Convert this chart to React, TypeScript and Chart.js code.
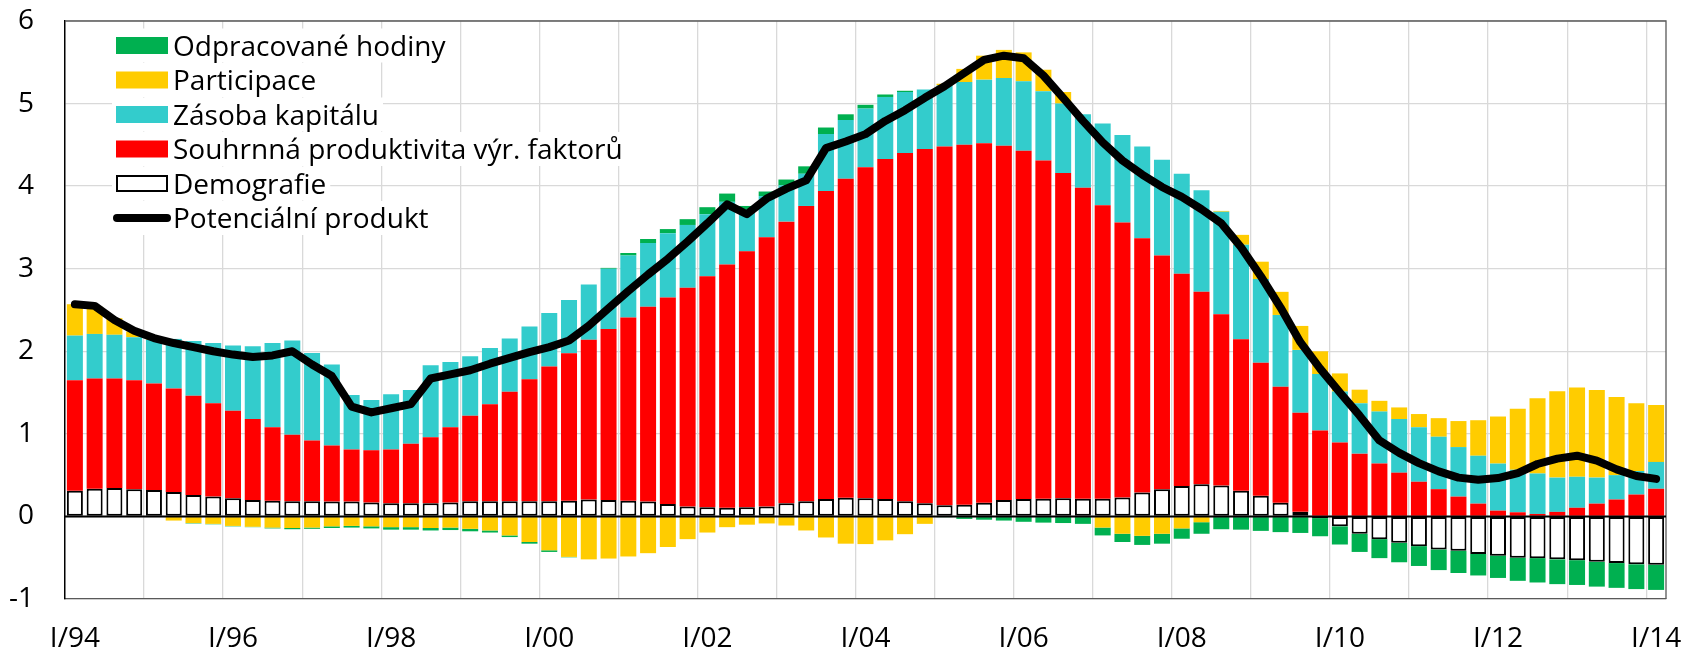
import React, { useEffect, useRef } from "react";
import { Chart, registerables } from "chart.js";

Chart.register(...registerables);

const quarterLabels = [
  "I/94", "II/94", "III/94", "IV/94", "I/95", "II/95", "III/95", "IV/95",
  "I/96", "II/96", "III/96", "IV/96", "I/97", "II/97", "III/97", "IV/97",
  "I/98", "II/98", "III/98", "IV/98", "I/99", "II/99", "III/99", "IV/99",
  "I/00", "II/00", "III/00", "IV/00", "I/01", "II/01", "III/01", "IV/01",
  "I/02", "II/02", "III/02", "IV/02", "I/03", "II/03", "III/03", "IV/03",
  "I/04", "II/04", "III/04", "IV/04", "I/05", "II/05", "III/05", "IV/05",
  "I/06", "II/06", "III/06", "IV/06", "I/07", "II/07", "III/07", "IV/07",
  "I/08", "II/08", "III/08", "IV/08", "I/09", "II/09", "III/09", "IV/09",
  "I/10", "II/10", "III/10", "IV/10", "I/11", "II/11", "III/11", "IV/11",
  "I/12", "II/12", "III/12", "IV/12", "I/13", "II/13", "III/13", "IV/13",
  "I/14",
];

const yTicks = [-1, 0, 1, 2, 3, 4, 5, 6];

const demografie = [
  0.31, 0.335, 0.343, 0.33, 0.32, 0.295, 0.26, 0.24, 0.22, 0.2,
  0.19, 0.185, 0.185, 0.18, 0.18, 0.17, 0.16, 0.16, 0.16, 0.17,
  0.185, 0.185, 0.185, 0.185, 0.185, 0.19, 0.205, 0.2, 0.19, 0.18,
  0.15, 0.12, 0.11, 0.105, 0.11, 0.12, 0.16, 0.185, 0.21, 0.225,
  0.22, 0.21, 0.185, 0.16, 0.135, 0.14, 0.165, 0.2, 0.21, 0.215,
  0.22, 0.215, 0.215, 0.23, 0.29, 0.33, 0.37, 0.39, 0.375, 0.31,
  0.25, 0.165, 0.057, -0.02, -0.12, -0.21, -0.275, -0.32, -0.36, -0.4,
  -0.415, -0.455, -0.475, -0.5, -0.505, -0.52, -0.53, -0.55, -0.565, -0.58,
  -0.585,
];

const produktivita = [
  1.34, 1.335, 1.327, 1.32, 1.29, 1.255, 1.2, 1.13, 1.06, 0.98,
  0.89, 0.805, 0.735, 0.68, 0.63, 0.63, 0.65, 0.72, 0.8, 0.91,
  1.035, 1.175, 1.325, 1.475, 1.63, 1.785, 1.935, 2.07, 2.22, 2.36,
  2.5, 2.65, 2.8, 2.945, 3.1, 3.26, 3.41, 3.575, 3.73, 3.865,
  4.01, 4.12, 4.215, 4.29, 4.345, 4.36, 4.355, 4.29, 4.22, 4.095,
  3.94, 3.765, 3.555, 3.33, 3.08, 2.83, 2.57, 2.33, 2.075, 1.835,
  1.61, 1.405, 1.2, 1.04, 0.895, 0.76, 0.64, 0.53, 0.42, 0.33,
  0.24, 0.155, 0.07, 0.05, 0.03, 0.055, 0.105, 0.155, 0.205, 0.265,
  0.335,
];

const kapital = [
  0.54, 0.54, 0.53, 0.52, 0.53, 0.6, 0.665, 0.73, 0.79, 0.88,
  1.02, 1.14, 1.06, 0.98, 0.66, 0.61, 0.67, 0.65, 0.87, 0.79,
  0.72, 0.68, 0.645, 0.64, 0.65, 0.645, 0.67, 0.73, 0.75, 0.77,
  0.78, 0.76, 0.75, 0.76, 0.51, 0.5, 0.44, 0.39, 0.69, 0.71,
  0.71, 0.75, 0.74, 0.72, 0.74, 0.76, 0.77, 0.82, 0.84, 0.84,
  0.84, 0.89, 0.99, 1.06, 1.11, 1.16, 1.21, 1.23, 1.24, 1.145,
  1.015, 0.87, 0.76, 0.685, 0.617, 0.61, 0.63, 0.65, 0.66, 0.635,
  0.6, 0.58, 0.57, 0.515, 0.49, 0.415, 0.375, 0.315, 0.295, 0.285,
  0.325,
];

const participace = [
  0.38, 0.33, 0.2, 0.07, 0.01, -0.05, -0.08, -0.09, -0.115, -0.125,
  -0.135, -0.14, -0.135, -0.12, -0.115, -0.12, -0.13, -0.13, -0.14, -0.135,
  -0.15, -0.17, -0.23, -0.31, -0.41, -0.49, -0.52, -0.51, -0.485, -0.445,
  -0.37, -0.275, -0.195, -0.13, -0.1, -0.085, -0.11, -0.17, -0.255, -0.33,
  -0.335, -0.29, -0.215, -0.09, 0.02, 0.16, 0.29, 0.34, 0.35, 0.26,
  0.14, 0, -0.135, -0.21, -0.235, -0.21, -0.145, -0.07, 0.01, 0.12,
  0.21, 0.28, 0.29, 0.275, 0.22, 0.165, 0.13, 0.14, 0.16, 0.225,
  0.315, 0.43, 0.57, 0.74, 0.91, 1.045, 1.08, 1.06, 0.945, 0.82,
  0.69,
];

const hodiny = [
  0, 0, 0, 0, 0, 0, -0.005, -0.005, -0.005, -0.005,
  -0.01, -0.015, -0.015, -0.02, -0.02, -0.025, -0.03, -0.03, -0.03, -0.03,
  -0.03, -0.025, -0.02, -0.02, -0.02, -0.005, 0, 0.01, 0.03, 0.05,
  0.05, 0.07, 0.085, 0.1, 0.04, 0.055, 0.07, 0.09, 0.08, 0.07,
  0.045, 0.03, 0.015, 0, -0.01, -0.03, -0.04, -0.05, -0.065, -0.075,
  -0.08, -0.09, -0.095, -0.1, -0.11, -0.12, -0.125, -0.14, -0.155, -0.16,
  -0.175, -0.19, -0.2, -0.22, -0.22, -0.22, -0.23, -0.235, -0.24, -0.25,
  -0.27, -0.26, -0.27, -0.28, -0.295, -0.3, -0.3, -0.3, -0.3, -0.3,
  -0.305,
];

const potencialniProdukt = [
  2.57, 2.55, 2.38, 2.25, 2.16, 2.1, 2.05, 2.0, 1.96, 1.93,
  1.95, 2.0, 1.84, 1.7, 1.33, 1.26, 1.31, 1.36, 1.67, 1.72,
  1.77, 1.85, 1.92, 1.99, 2.05, 2.13, 2.31, 2.52, 2.73, 2.93,
  3.12, 3.33, 3.55, 3.78, 3.66, 3.85, 3.97, 4.07, 4.46, 4.54,
  4.63, 4.79, 4.92, 5.07, 5.21, 5.37, 5.53, 5.58, 5.55, 5.34,
  5.07, 4.79, 4.53, 4.31, 4.14, 3.99, 3.87, 3.72, 3.55, 3.26,
  2.91, 2.53, 2.11, 1.79, 1.5, 1.22, 0.92, 0.77, 0.645, 0.545,
  0.47, 0.445, 0.465, 0.525, 0.635, 0.7, 0.735, 0.675, 0.57, 0.49,
  0.455,
];

const FONT = "'Open Sans'";
const FONT_SIZE = 28;

const COLORS = {
  hodiny: "#00B050",
  participace: "#FFCC00",
  kapital: "#33CCCC",
  produktivita: "#FF0000",
};

type LegendItem = { label: string; kind: "box" | "outline" | "line"; color: string };

const legendItems: LegendItem[] = [
  { label: "Odpracované hodiny", kind: "box", color: COLORS.hodiny },
  { label: "Participace", kind: "box", color: COLORS.participace },
  { label: "Zásoba kapitálu", kind: "box", color: COLORS.kapital },
  { label: "Souhrnná produktivita výr. faktorů", kind: "box", color: COLORS.produktivita },
  { label: "Demografie", kind: "outline", color: "#000000" },
  { label: "Potenciální produkt", kind: "line", color: "#000000" },
];

const framePlugin = {
  id: "frameAndZero",
  afterDatasetsDraw(chart: any) {
    const { ctx, chartArea } = chart;
    const y = chart.scales.y;
    ctx.save();
    ctx.strokeStyle = "#595959";
    ctx.lineWidth = 1.3;
    ctx.beginPath();
    ctx.moveTo(chartArea.left, chartArea.top);
    ctx.lineTo(chartArea.right, chartArea.top);
    ctx.lineTo(chartArea.right, chartArea.bottom);
    ctx.stroke();
    const y0 = y.getPixelForValue(0);
    ctx.strokeStyle = "#000000";
    ctx.lineWidth = 2;
    ctx.beginPath();
    ctx.moveTo(chartArea.left, y0);
    ctx.lineTo(chartArea.right, y0);
    ctx.stroke();
    ctx.restore();
  },
};

const legendPlugin = {
  id: "insideLegend",
  afterDraw(chart: any) {
    const ctx = chart.ctx;
    ctx.save();
    ctx.font = `${FONT_SIZE}px ${FONT}`;
    ctx.textBaseline = "alphabetic";
    ctx.textAlign = "left";
    const boxLeft = 116;
    const boxW = 52;
    const textX = 173;
    legendItems.forEach((it, i) => {
      const cy = 45.5 + i * 34.5;
      const tw = ctx.measureText(it.label).width;
      ctx.fillStyle = "#ffffff";
      ctx.fillRect(112, cy - 17, textX + tw + 4 - 112, 34);
      if (it.kind === "box") {
        ctx.fillStyle = it.color;
        ctx.fillRect(boxLeft, cy - 8.5, boxW, 17);
      } else if (it.kind === "outline") {
        ctx.fillStyle = "#ffffff";
        ctx.fillRect(boxLeft, cy - 8.5, boxW, 17);
        ctx.strokeStyle = "#000000";
        ctx.lineWidth = 2;
        ctx.strokeRect(boxLeft + 1, cy - 7.5, boxW - 2, 15);
      } else {
        ctx.strokeStyle = it.color;
        ctx.lineWidth = 8;
        ctx.lineCap = "round";
        ctx.beginPath();
        ctx.moveTo(boxLeft + 1, cy);
        ctx.lineTo(boxLeft + boxW - 1, cy);
        ctx.stroke();
      }
      ctx.fillStyle = "#000000";
      ctx.fillText(it.label, textX, cy + 10);
    });
    ctx.restore();
  },
};

export default function App() {
  const canvasRef = useRef<HTMLCanvasElement | null>(null);

  useEffect(() => {
    if (!canvasRef.current) return;
    const barCommon = {
      type: "bar" as const,
      order: 1,
      barPercentage: 0.81,
      categoryPercentage: 1.0,
      borderWidth: 0,
    };
    const chart = new Chart(canvasRef.current, {
      type: "bar",
      data: {
        labels: quarterLabels,
        datasets: [
          {
            type: "line",
            label: "Potenciální produkt",
            data: potencialniProdukt,
            order: 0,
            borderColor: "#000000",
            backgroundColor: "#000000",
            borderWidth: 8,
            pointRadius: 0,
            tension: 0,
            borderJoinStyle: "round",
            borderCapStyle: "round",
            fill: false,
          } as any,
          {
            ...barCommon,
            label: "Demografie",
            data: demografie,
            backgroundColor: "#ffffff",
            borderColor: "#000000",
            borderWidth: 2,
            borderSkipped: false,
          } as any,
          {
            ...barCommon,
            label: "Souhrnná produktivita výr. faktorů",
            data: produktivita,
            backgroundColor: COLORS.produktivita,
          } as any,
          {
            ...barCommon,
            label: "Zásoba kapitálu",
            data: kapital,
            backgroundColor: COLORS.kapital,
          } as any,
          {
            ...barCommon,
            label: "Participace",
            data: participace,
            backgroundColor: COLORS.participace,
          } as any,
          {
            ...barCommon,
            label: "Odpracované hodiny",
            data: hodiny,
            backgroundColor: COLORS.hodiny,
          } as any,
        ],
      },
      options: {
        animation: false,
        responsive: false,
        maintainAspectRatio: false,
        layout: { padding: { top: 21, right: 20, left: 0, bottom: 0 } },
        plugins: {
          legend: { display: false },
          tooltip: { enabled: false },
          title: { display: false },
        },
        scales: {
          x: {
            type: "category",
            stacked: true,
            offset: true,
            grid: {
              offset: true,
              drawTicks: true,
              tickLength: 23,
              tickColor: "rgba(0,0,0,0)",
              lineWidth: 1.3,
              color: (ctx: any) =>
                ctx.index > 0 && ctx.index < quarterLabels.length && ctx.index % 4 === 0
                  ? "#D9D9D9"
                  : "rgba(0,0,0,0)",
            },
            border: { display: true, color: "#595959", width: 1.3 },
            ticks: {
              autoSkip: false,
              maxRotation: 0,
              minRotation: 0,
              padding: 0,
              color: "#000000",
              font: { family: FONT, size: FONT_SIZE },
              callback: function (this: any, value: any, index: number) {
                return index % 8 === 0 ? quarterLabels[index] : "";
              },
            },
            afterFit: (scale: any) => {
              scale.height = 56;
            },
          },
          y: {
            stacked: true,
            min: yTicks[0],
            max: yTicks[yTicks.length - 1],
            grid: {
              color: "#D9D9D9",
              drawTicks: true,
              tickLength: 31,
              tickColor: "rgba(0,0,0,0)",
              lineWidth: 1.3,
            },
            border: { display: true, color: "#000000", width: 1.5 },
            ticks: {
              stepSize: 1,
              padding: 0,
              color: "#000000",
              font: { family: FONT, size: FONT_SIZE },
            },
            afterFit: (scale: any) => {
              scale.width = 65;
            },
          },
        },
      },
      plugins: [framePlugin, legendPlugin],
    });
    return () => chart.destroy();
  }, []);

  return (
    <div style={{ position: "fixed", left: 0, top: 0, width: 1686, height: 655, background: "#fff" }}>
      <canvas ref={canvasRef} width={1686} height={655} style={{ display: "block" }} />
    </div>
  );
}
